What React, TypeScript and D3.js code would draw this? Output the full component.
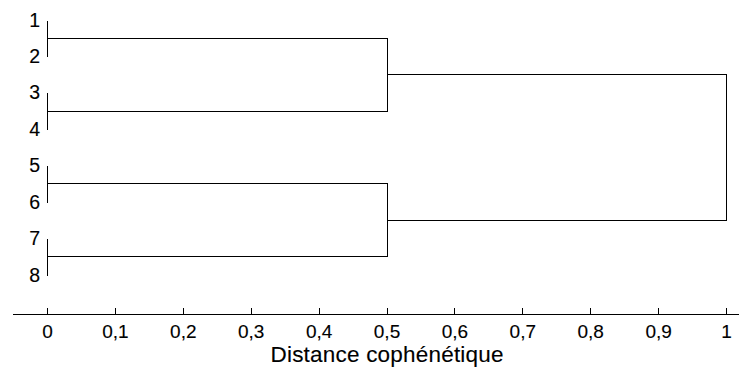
import React from "react";
import * as d3 from "d3";

const leafLabels = ["1", "2", "3", "4", "5", "6", "7", "8"];
// merges: left child position, right child position, merge height, child heights
const linkLeft = [1, 3, 5, 7, 1.5, 5.5, 2.5];
const linkRight = [2, 4, 6, 8, 3.5, 7.5, 6.5];
const linkHeight = [0, 0, 0, 0, 0.5, 0.5, 1];
const linkChildLeftH = [0, 0, 0, 0, 0, 0, 0.5];
const linkChildRightH = [0, 0, 0, 0, 0, 0, 0.5];
const tickValues = [0, 0.1, 0.2, 0.3, 0.4, 0.5, 0.6, 0.7, 0.8, 0.9, 1];

const W = 749;
const H = 367;

export default function App() {
  const x = d3.scaleLinear().domain([0, 1]).range([47, 726]);
  const y = d3.scaleLinear().domain([1, 8]).range([19.5, 274.5]);
  const axisY = 314.5;
  const fmt = (v: number) => d3.format("~g")(v).replace(".", ",");
  const font = "'Liberation Sans', Arial, sans-serif";
  const px = (v: number) => Math.round(v) + 0.5;
  const textStroke = { stroke: "#000", strokeWidth: 0.12 };

  return (
    <svg
      width={W}
      height={H}
      style={{ position: "absolute", left: 0, top: 0, background: "#fff" }}
    >
      <rect width={W} height={H} fill="#fff" />
      {linkLeft.map((l, i) => {
        const r = linkRight[i];
        const h = linkHeight[i];
        const hl = linkChildLeftH[i];
        const hr = linkChildRightH[i];
        const d = `M${px(x(hl))},${px(y(l))}H${px(x(h))}V${px(y(r))}H${px(x(hr))}`;
        return (
          <path
            key={i}
            d={d}
            fill="none"
            stroke="#000"
            strokeWidth={1}
            shapeRendering="crispEdges"
          />
        );
      })}
      {leafLabels.map((lab, i) => (
        <text
          key={lab}
          x={40}
          y={y(i + 1) + 7}
          textAnchor="end"
          style={{ fontFamily: font, fontSize: 19.5 }}
          fill="#000"
          {...textStroke}
        >
          {lab}
        </text>
      ))}
      <line
        x1={13}
        x2={739}
        y1={axisY}
        y2={axisY}
        stroke="#000"
        shapeRendering="crispEdges"
      />
      {tickValues.map((t) => (
        <g key={t}>
          <line
            x1={px(x(t))}
            x2={px(x(t))}
            y1={axisY}
            y2={axisY - 7}
            stroke="#000"
            shapeRendering="crispEdges"
          />
          <text
            x={x(t) + 0.5}
            y={337.5}
            textAnchor="middle"
            style={{ fontFamily: font, fontSize: 19 }}
            fill="#000"
            {...textStroke}
          >
            {fmt(t)}
          </text>
        </g>
      ))}
      <text
        x={387}
        y={362}
        textAnchor="middle"
        style={{ fontFamily: font, fontSize: 22.5 }}
        textLength={233}
        lengthAdjust="spacing"
        fill="#000"
        {...textStroke}
      >
        Distance cophénétique
      </text>
    </svg>
  );
}
